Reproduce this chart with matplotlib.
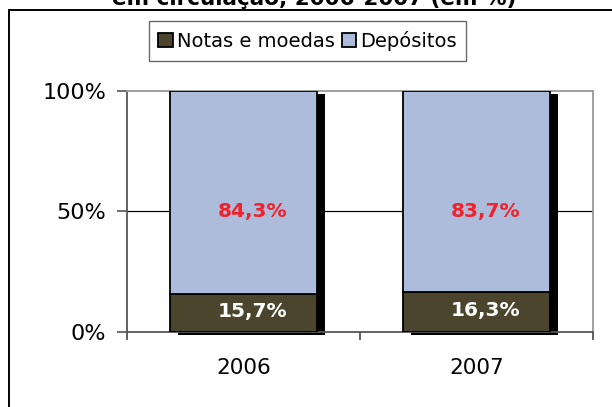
import matplotlib.pyplot as plt
from matplotlib.patches import Rectangle

# ── Dados ────────────────────────────────────────────────────────────────────
anos = ["2006", "2007"]
notas_moedas = [15.7, 16.3]
depositos = [84.3, 83.7]
rot_notas = ["15,7%", "16,3%"]
rot_depositos = ["84,3%", "83,7%"]

COR_NOTAS = "#4A452C"
COR_DEP = "#AEBCDC"
COR_ROT = "#F0222C"

fig = plt.figure(figsize=(6.12, 4.07), dpi=100)
ax = fig.add_axes([127 / 612, 1 - 331.5 / 407, 466 / 612, 240.5 / 407])

x = list(range(len(anos)))
larg = 0.63
dx, dy = 0.034, -1.4   # deslocamento da sombra

# sombras
for i in x:
    ax.add_patch(Rectangle((i - larg / 2 + dx, dy), larg, 100, facecolor="black",
                           edgecolor="none", zorder=2, clip_on=False))

ax.bar(x, notas_moedas, larg, color=COR_NOTAS, edgecolor="black", lw=1.3,
       label="Notas e moedas", zorder=3)
ax.bar(x, depositos, larg, bottom=notas_moedas, color=COR_DEP, edgecolor="black",
       lw=1.3, label="Depósitos", zorder=3)

for i in x:
    ax.text(i + 0.04, notas_moedas[i] / 2 + 0.5, rot_notas[i], color="white",
            fontsize=14.5, fontweight="bold", ha="center", va="center", zorder=4)
    ax.text(i + 0.04, 50, rot_depositos[i], color=COR_ROT,
            fontsize=14.5, fontweight="bold", ha="center", va="center", zorder=4)

ax.axhline(50, color="black", lw=0.9, zorder=1)

ax.set_xlim(-0.5, 1.5)
ax.set_ylim(0, 100)
ax.set_yticks([0, 50, 100])
ax.set_yticklabels(["0%", "50%", "100%"], fontsize=16)
ax.set_xticks([-0.5, 0.5, 1.5])
ax.set_xticklabels([])
ax.set_xticks(x, minor=True)
ax.set_xticklabels(anos, minor=True, fontsize=15.5)
ax.tick_params(axis="x", which="minor", length=0, pad=19)
ax.tick_params(axis="x", which="major", length=6, color="#444444", width=1.2)
ax.tick_params(axis="y", length=7, color="#555555", width=1.2, pad=8)

for lado in ["top", "right"]:
    ax.spines[lado].set_color("#999999")
    ax.spines[lado].set_linewidth(1.3)
for lado in ["left", "bottom"]:
    ax.spines[lado].set_color("#555555")
    ax.spines[lado].set_linewidth(1.3)

leg = fig.legend(loc="center", bbox_to_anchor=(307.5 / 612, 1 - 41 / 407), ncol=2,
                 fontsize=14, frameon=True, fancybox=False, handlelength=0.75,
                 handleheight=0.75, handletextpad=0.2, columnspacing=0.35,
                 borderpad=0.5, borderaxespad=0)
leg.get_frame().set_edgecolor("#444444")
leg.get_frame().set_linewidth(1.0)

# moldura exterior (cortada pela imagem)
fig.patches.append(Rectangle((9 / 612, -0.1), 1.2, 1.1 - 10 / 407, transform=fig.transFigure,
                             fill=False, edgecolor="black", lw=1.4))

fig.text(314 / 612, 1 - 5 / 407, "em circulação, 2006-2007 (em %)", fontsize=15.5,
         fontweight="bold", ha="center", va="baseline")

fig.savefig("out.png", dpi=100)
